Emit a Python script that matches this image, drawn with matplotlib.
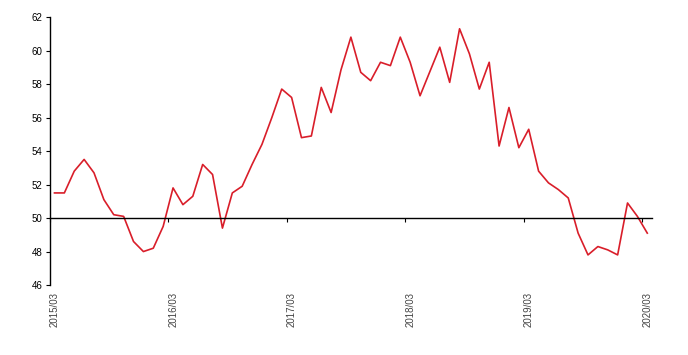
import numpy as np
import matplotlib
matplotlib.use('Agg')
import matplotlib.pyplot as plt

plt.rcParams['font.family'] = ['Liberation Sans', 'DejaVu Sans']

# monthly values, 2015/03 .. 2020/03
values = [51.5, 51.5, 52.8, 53.5, 52.7, 51.1, 50.2, 50.1, 48.6, 48.0, 48.2, 49.5,
          51.8, 50.8, 51.3, 53.2, 52.6, 49.4, 51.5, 51.9, 53.2, 54.4, 56.0, 57.7,
          57.2, 54.8, 54.9, 57.8, 56.3, 58.85, 60.8, 58.7, 58.2, 59.3, 59.1, 60.8,
          59.3, 57.3, 58.75, 60.2, 58.1, 61.3, 59.8, 57.7, 59.3, 54.3, 56.6, 54.2,
          55.3, 52.8, 52.1, 51.7, 51.2, 49.1, 47.8, 48.3, 48.1, 47.8, 50.9, 50.1,
          49.1]
tick_labels = ['2015/03', '2016/03', '2017/03', '2018/03', '2019/03', '2020/03']
baseline = 50

fig = plt.figure(figsize=(6.88, 3.55), dpi=100)
ax = fig.add_axes([0.072, 0.197, 0.876, 0.755])

x = np.arange(len(values)) + 0.5
ax.plot(x, values, color='#d91e2a', lw=1.2)

ax.set_xlim(0, len(values))
ax.set_ylim(46, 62)
ax.set_yticks(np.arange(46, 63, 2))

ax.spines['top'].set_visible(False)
ax.spines['right'].set_visible(False)
ax.spines['bottom'].set_position(('data', baseline))
ax.spines['bottom'].set_linewidth(1.0)
ax.spines['left'].set_linewidth(1.0)

ax.set_xticks(np.arange(0, len(values), 12))
ax.set_xticklabels(tick_labels, rotation=90, ha='left', color='#444444', fontsize=7)
ax.tick_params(axis='x', direction='out', length=3, pad=50)
ax.tick_params(axis='y', direction='out', length=3, labelsize=7, pad=2)

fig.savefig('out.png', dpi=100)
